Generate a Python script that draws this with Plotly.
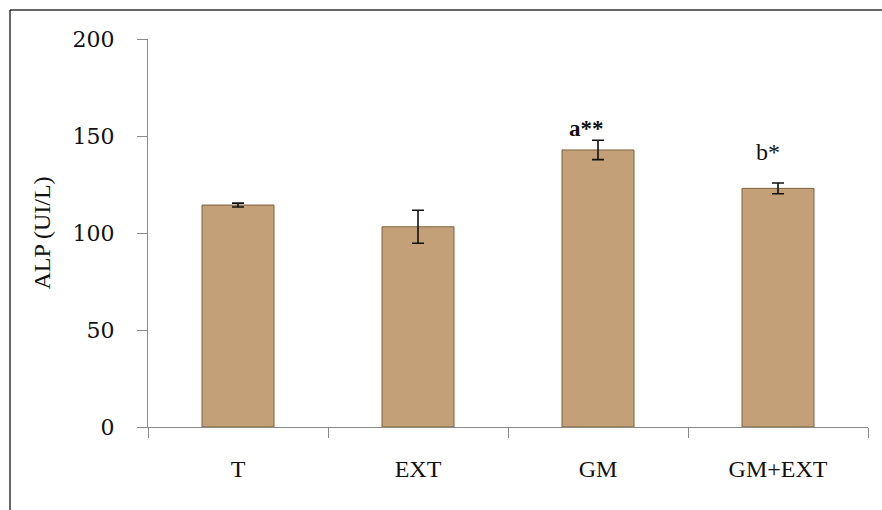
import plotly.graph_objects as go

# ALP activity per group (mean ± error)
groups = ["T", "EXT", "GM", "GM+EXT"]
alp_mean = [114.4, 103.2, 142.8, 123.0]
alp_err = [1.0, 8.5, 5.0, 2.8]
sig_labels = ["", "", "<b>a**</b>", "b*"]

y_ticks = [0, 50, 100, 150, 200]

W, H = 882, 510
ML, MR, MT, MB = 148, 14, 39, 83
PW, PH = W - ML - MR, H - MT - MB


def px_to_paper_x(px):
    return (px - ML) / PW


def px_to_paper_y(py):
    return (H - MB - py) / PH


fig = go.Figure()
fig.add_trace(go.Bar(
    x=groups,
    y=alp_mean,
    width=0.4,
    marker=dict(color="#C3A077", line=dict(color="#7d603f", width=1)),
    error_y=dict(type="data", array=alp_err, visible=True,
                 color="#111111", thickness=1.6, width=6),
    showlegend=False,
))

# significance marks above the error bars
for g, m, e, lab in zip(groups, alp_mean, alp_err, sig_labels):
    if not lab:
        continue
    bold = lab.startswith("<b>")
    fig.add_annotation(
        x=g, y=m + e, text=lab, showarrow=False,
        yanchor="bottom", xanchor="center",
        xshift=-12 if bold else -10,
        yshift=-3 if bold else 16,
        font=dict(family="Liberation Serif", size=23 if bold else 24, color="#111111"),
    )

# partial outer frame (top and left edges)
fig.add_shape(type="line", xref="paper", yref="paper",
              x0=px_to_paper_x(10), y0=px_to_paper_y(10),
              x1=px_to_paper_x(W + 5), y1=px_to_paper_y(10),
              line=dict(color="#333333", width=1.5))
fig.add_shape(type="line", xref="paper", yref="paper",
              x0=px_to_paper_x(10), y0=px_to_paper_y(10),
              x1=px_to_paper_x(10), y1=px_to_paper_y(H + 5),
              line=dict(color="#333333", width=1.5))

fig.update_layout(
    width=W, height=H,
    margin=dict(l=ML, r=MR, t=MT, b=MB),
    paper_bgcolor="white", plot_bgcolor="white",
    bargap=0.6,
)
fig.update_xaxes(
    showline=True, linecolor="#8a8a8a", linewidth=1.2,
    ticks="outside", tickson="boundaries", ticklen=10, tickcolor="#8a8a8a",
    showgrid=False, zeroline=False,
    tickfont=dict(family="Liberation Serif", size=24, color="#111111"),
    ticklabelstandoff=20,
)
fig.update_yaxes(
    range=[0, 200], tickvals=y_ticks,
    showline=True, linecolor="#8a8a8a", linewidth=1.2,
    ticks="outside", ticklen=10, tickcolor="#8a8a8a",
    showgrid=False, zeroline=False,
    tickfont=dict(family="DejaVu Serif", size=22, color="#111111"),
    ticklabelstandoff=18,
    title=dict(text="ALP (UI/L)", standoff=15,
               font=dict(family="Liberation Serif", size=24, color="#111111")),
)

fig.write_html("out.html")
